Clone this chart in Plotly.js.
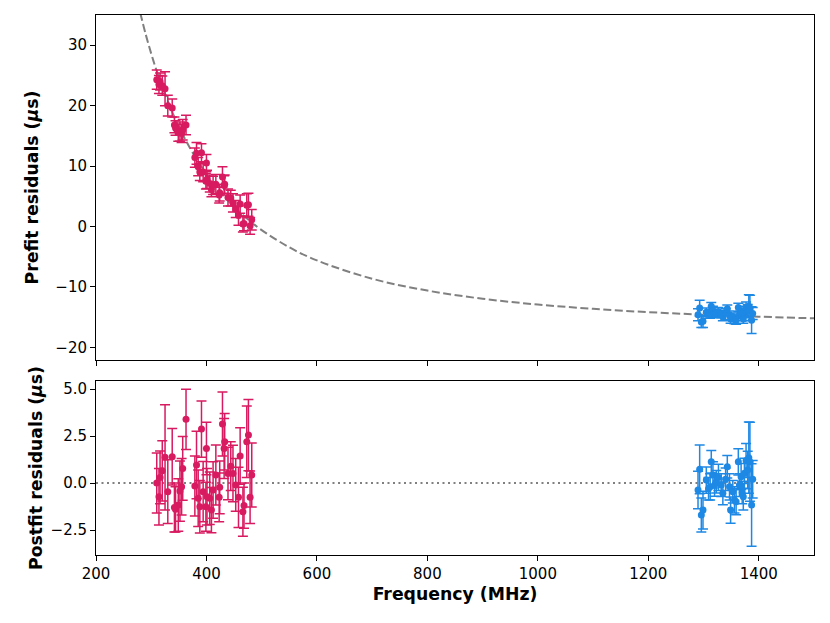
<!DOCTYPE html>
<html>
<head>
<meta charset="utf-8">
<script src="https://cdn.plot.ly/plotly-3.0.1.min.js"></script>
<style>html,body{margin:0;padding:0;background:#fff;}#chart{width:830px;height:623px;}</style>
</head>
<body>
<div id="chart"></div>
<script>
// Low-frequency band (pink)
var freqLow = [310,314,316,320,325,330,338,342,344,349,352,355,357,363,379,382,385,388,391,394,399,400,401,406,409,412,417,423,424,429,432,433,439,444,448,453,458,461,466,468,473,476,479,482];
var prefitLow = [24.3,23.5,24.0,23.3,22.8,20.0,19.6,16.8,16.3,15.5,15.7,15.4,16.0,16.8,11.4,12.1,9.9,9.0,12.2,9.0,7.5,10.5,7.8,7.1,6.1,6.8,7.0,5.2,5.6,8.2,6.8,7.0,4.8,4.7,3.9,2.9,1.8,3.7,0.4,0.5,3.5,3.6,0.1,1.1];
var postfitLow = [0.0,-0.73,0.3,0.65,1.37,-0.46,1.40,-1.3,-1.40,-1.17,-0.43,-0.2,0.78,3.39,-0.16,0.96,-0.81,-1.26,2.87,-0.46,-1.26,1.84,-0.73,-0.81,-1.44,-0.37,0.43,-0.76,-0.23,3.14,1.84,2.20,0.51,0.9,0.51,-0.10,-0.76,1.44,-1.53,-1.2,2.20,2.55,-0.76,0.43];
var errLow = [1.6,1.5,1.4,1.6,2.8,1.7,1.5,1.3,1.2,1.4,1.6,1.5,1.7,1.6,1.6,1.8,1.5,1.4,1.5,1.6,1.3,1.4,1.5,1.4,1.2,1.5,1.6,1.3,1.4,1.7,1.6,1.5,1.4,1.3,1.5,1.4,1.6,1.5,1.3,1.2,1.9,1.9,1.4,1.7];

// High-frequency band (blue)
var freqHigh = [1290,1293,1296,1299,1305,1309,1312,1314,1317,1320,1323,1327,1332,1335,1340,1343,1347,1349,1353,1356,1359,1363,1365,1368,1370,1372,1374,1377,1380,1382,1384,1387,1389];
var prefitHigh = [-14.6,-13.5,-15.8,-15.7,-14.2,-14.6,-14.5,-13.2,-13.9,-14.5,-14.3,-14.1,-14.5,-15.0,-14.2,-13.6,-14.7,-15.3,-14.9,-15.4,-15.5,-13.4,-14.6,-14.2,-15.0,-15.3,-14.0,-13.4,-13.9,-13.2,-13.5,-15.5,-14.4];
var postfitHigh = [-0.37,0.73,-1.70,-1.44,0.16,-0.3,-0.2,1.13,0.43,-0.1,0.07,0.3,-0.11,-0.55,0.2,0.87,-0.2,-1.44,-0.46,-0.9,-0.99,1.13,-0.11,0.34,-0.5,-0.73,0.52,1.2,0.69,1.35,1.13,-1.17,0.2];
var errHigh = [1.0,1.3,0.9,1.0,0.7,0.6,0.7,0.6,0.7,0.6,0.6,0.7,0.6,0.6,0.6,0.6,0.7,0.7,0.6,0.7,0.7,0.7,0.6,0.7,0.6,0.7,0.8,0.9,1.0,1.9,2.1,2.2,1.0];

// Dispersion model curve
var modelFreq = [280,290,300,310,325,340,350,360,375,400,425,450,475,500,550,600,700,800,900,1000,1100,1200,1300,1400,1500];
var modelVal = [35.4,31.8,28.6,25.7,21.9,18.5,16.5,14.7,12.2,8.65,5.7,3.26,1.18,-0.6,-3.45,-5.62,-8.65,-10.61,-11.96,-12.92,-13.63,-14.18,-14.6,-14.93,-15.2];

var pink = '#d81b60';
var blue = '#1e88e5';

function errTrace(x, y, e, color, xa, ya) {
  return {
    x: x, y: y, type: 'scatter', mode: 'markers', xaxis: xa, yaxis: ya,
    marker: {color: color, size: 7},
    error_y: {type: 'data', array: e, visible: true, color: color, thickness: 1.5, width: 5},
    showlegend: false, hoverinfo: 'skip'
  };
}

var traces = [
  {x: modelFreq, y: modelVal, type: 'scatter', mode: 'lines', xaxis: 'x', yaxis: 'y',
   line: {color: '#808080', width: 2, dash: '8px,3.5px', shape: 'spline'}, showlegend: false, hoverinfo: 'skip'},
  errTrace(freqLow, prefitLow, errLow, pink, 'x', 'y'),
  errTrace(freqHigh, prefitHigh, errHigh, blue, 'x', 'y'),
  errTrace(freqLow, postfitLow, errLow, pink, 'x2', 'y2'),
  errTrace(freqHigh, postfitHigh, errHigh, blue, 'x2', 'y2')
];

var font = {family: 'DejaVu Sans', size: 15, color: '#000'};
var titleFont = {family: 'DejaVu Sans', size: 17.3, color: '#000'};
var axisCommon = {
  showline: true, mirror: true, linecolor: '#000', linewidth: 1,
  ticks: 'outside', ticklen: 5, tickwidth: 1, tickcolor: '#000',
  showgrid: false, zeroline: false, tickfont: font
};

var layout = {
  width: 830, height: 623,
  margin: {l: 96, r: 16, t: 15, b: 68},
  paper_bgcolor: '#fff', plot_bgcolor: '#fff',
  font: font,
  xaxis: Object.assign({}, axisCommon, {domain: [0, 1], anchor: 'y', range: [200, 1500], dtick: 200, tick0: 200, showticklabels: false, matches: 'x2'}),
  yaxis: Object.assign({}, axisCommon, {domain: [0.3611, 1], anchor: 'x', range: [-22.1, 35], dtick: 10, tick0: 0,
    title: {text: '<b>Prefit residuals (<i>μ</i>s)</b>', font: titleFont, standoff: 12}}),
  xaxis2: Object.assign({}, axisCommon, {domain: [0, 1], anchor: 'y2', range: [200, 1500], dtick: 200, tick0: 200,
    title: {text: '<b>Frequency (MHz)</b>', font: titleFont, standoff: 5}}),
  yaxis2: Object.assign({}, axisCommon, {domain: [0, 0.3222], anchor: 'x2', range: [-3.83, 5.43], dtick: 2.5, tick0: 0, tickformat: '.1f',
    title: {text: '<b>Postfit residuals (<i>μ</i>s)</b>', font: titleFont, standoff: 3}}),
  shapes: [
    {type: 'line', xref: 'x2 domain', yref: 'y2', x0: 0, x1: 1, y0: 0, y1: 0,
     line: {color: '#808080', width: 2, dash: '2px,3.5px'}, layer: 'below'}
  ]
};

Plotly.newPlot('chart', traces, layout, {staticPlot: true, displayModeBar: false});
</script>
</body>
</html>
